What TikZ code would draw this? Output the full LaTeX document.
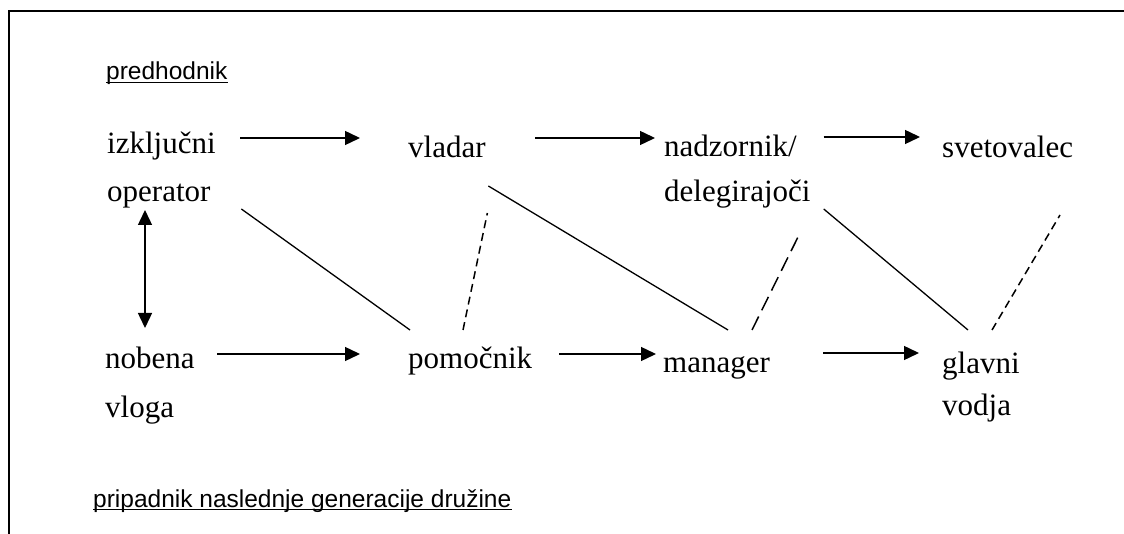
\documentclass[tikz,border=0pt]{standalone}
\usepackage{fontspec}
\setmainfont{Liberation Serif}
\setsansfont{Liberation Sans}
\usetikzlibrary{arrows.meta,positioning}

\begin{document}
\begin{tikzpicture}[x=1pt,y=-1pt]
      \tikzstyle{role} = [anchor=base west, inner sep=0pt, align=left, font=\fontsize{31}{48}\selectfont]
      \tikzstyle{title} = [anchor=base west, inner sep=0pt, font=\sffamily\fontsize{24.5}{28}\selectfont]
      \tikzstyle{succ} = [-{Triangle[length=15pt,width=14pt]}, line width=1.4pt]
      \tikzstyle{swap} = [{Triangle[length=15pt,width=14pt]}-{Triangle[length=15pt,width=14pt]}, line width=1.4pt]
      \tikzstyle{tie} = [line width=1.3pt]
      \tikzstyle{weak} = [line width=1.5pt, dash pattern=on 8pt off 5pt]

      \useasboundingbox (0,0) rectangle (1124,534);
      \draw[line width=2pt] (8.5,534) -- (8.5,11) -- (1124,11);

      \node[title] (pre) at (106,80) {predhodnik};
      \node[title] (pri) at (93,507) {pripadnik naslednje generacije družine};
      \draw[line width=1.6pt] ([yshift=-2.5pt]pre.base west) -- ([yshift=-2.5pt]pre.base east);
      \draw[line width=1.6pt] ([yshift=-2.5pt]pri.base west) -- ([yshift=-2.5pt]pri.base east);

      % two-line nodes sit on the baseline of their last line
      \node[role] (izk) at (107,202) {izključni\\operator};
      \node[role] (vla) at (408,158) {vladar};
      \node[role] (nad) at (664,202) {nadzornik/\\[-3pt]delegirajoči};
      \node[role] (sve) at (942,158) {svetovalec};
      \node[role] (nob) at (105,417) {nobena\\[1pt]vloga};
      \node[role] (pom) at (408,369) {pomočnik};
      \node[role] (man) at (663,373) {manager};
      \node[role] (gla) at (942,415) {glavni\\[-6pt]vodja};

      \draw[succ] ([xshift=24.5pt,yshift=64pt]izk.base east) -- ([xshift=-48pt,yshift=20pt]vla.base west);
      \draw[succ] ([xshift=49.5pt,yshift=20pt]vla.base east) -- ([xshift=-9pt,yshift=64pt]nad.base west);
      \draw[succ] ([xshift=13pt,yshift=65pt]nad.base east) -- ([xshift=-22pt,yshift=21pt]sve.base west);
      \draw[succ] ([xshift=22.5pt,yshift=63pt]nob.base east) -- ([xshift=-48pt,yshift=15pt]pom.base west);
      \draw[succ] ([xshift=27pt,yshift=15pt]pom.base east) -- ([xshift=-7pt,yshift=19pt]man.base west);
      \draw[succ] ([xshift=53pt,yshift=20pt]man.base east) -- ([xshift=-23pt,yshift=62pt]gla.base west);
      \draw[swap] ([xshift=38pt,yshift=-8pt]izk.base west) -- ([xshift=40pt,yshift=89pt]nob.base west);

      \draw[tie] ([xshift=25.5pt,yshift=-7pt]izk.base east) -- ([xshift=2pt,yshift=39pt]pom.base west);
      \draw[tie] ([xshift=2.5pt,yshift=-28pt]vla.base east) -- ([xshift=65pt,yshift=43pt]man.base west);
      \draw[tie] ([xshift=13pt,yshift=-7pt]nad.base east) -- ([xshift=26pt,yshift=85pt]gla.base west);

      \draw[weak] ([xshift=55pt,yshift=39pt]pom.base west) -- ([xshift=1.5pt,yshift=-55pt]vla.base east);
      \draw[weak, dash pattern=on 15pt off 7pt] ([xshift=89pt,yshift=43pt]man.base west) -- ([xshift=134pt,yshift=-35pt]nad.base west);
      \draw[weak] ([xshift=50pt,yshift=85pt]gla.base west) -- ([xshift=118pt,yshift=-57pt]sve.base west);
    \end{tikzpicture}
\end{document}
